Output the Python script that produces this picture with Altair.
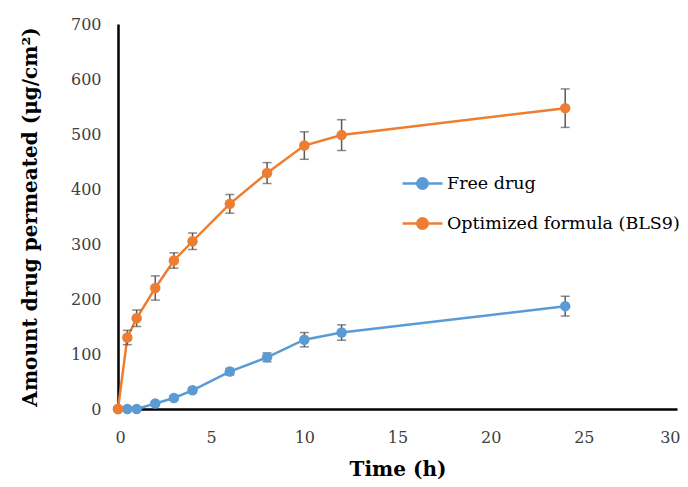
import altair as alt
import pandas as pd

time_h = [0, 0.5, 1, 2, 3, 4, 6, 8, 10, 12, 24]
free_drug = [0, 0, 0, 10, 20, 34, 68, 94, 126, 139, 187]
free_err = [0, 2, 2, 3, 4, 5, 6, 8, 13, 14, 18]
optimized = [0, 130, 165, 220, 270, 305, 373, 429, 479, 498, 547]
opt_err = [0, 13, 15, 22, 14, 15, 17, 19, 25, 28, 35]

series_names = ["Free drug", "Optimized formula (BLS9)"]
colors = ["#5B9BD5", "#ED7D31"]

rows = []
for t, v, e in zip(time_h, free_drug, free_err):
    rows.append({"t": t, "v": v, "e": e, "s": series_names[0]})
for t, v, e in zip(time_h, optimized, opt_err):
    rows.append({"t": t, "v": v, "e": e, "s": series_names[1]})
df = pd.DataFrame(rows)

font = "DejaVu Serif"
xs = alt.Scale(domain=[0, 30], nice=False)
ys = alt.Scale(domain=[0, 700], nice=False)
cs = alt.Scale(domain=series_names, range=colors)

base = alt.Chart(df).encode(
    x=alt.X("t:Q", scale=xs, title="Time (h)",
            axis=alt.Axis(values=[0, 5, 10, 15, 20, 25, 30])),
)

err = base.transform_filter("datum.e > 0").transform_calculate(
    lo="datum.v - datum.e", hi="datum.v + datum.e"
)
err_rule = err.mark_rule(color="#595959", strokeWidth=1.5).encode(
    y=alt.Y("lo:Q", scale=ys), y2="hi:Q"
)
cap_lo = err.mark_tick(color="#595959", thickness=1.5, size=9, orient="horizontal").encode(
    y=alt.Y("lo:Q", scale=ys)
)
cap_hi = err.mark_tick(color="#595959", thickness=1.5, size=9, orient="horizontal").encode(
    y=alt.Y("hi:Q", scale=ys)
)

legend_path = "M-1,0L1,0M-0.26,0A0.26,0.26 0 1,0 0.26,0A0.26,0.26 0 1,0 -0.26,0Z"
color_enc = alt.Color(
    "s:N", scale=cs, title=None,
    legend=alt.Legend(
        orient="none", legendX=283, legendY=138, symbolType=legend_path,
        symbolSize=1600, symbolStrokeWidth=2.5, labelFont=font,
        labelFontSize=17.5, labelColor="#000000", rowPadding=8, labelOffset=3,
        labelLimit=400,
    ),
)

line = base.mark_line(strokeWidth=2.5).encode(
    y=alt.Y("v:Q", scale=ys, title="Amount drug permeated (μg/cm²)",
            axis=alt.Axis(values=[0, 100, 200, 300, 400, 500, 600, 700])),
    color=color_enc,
)
pts = base.mark_point(filled=True, size=110, opacity=1).encode(
    y=alt.Y("v:Q", scale=ys),
    color=color_enc,
)

chart = alt.layer(line, err_rule, cap_lo, cap_hi, pts).properties(
    width=559, height=385,
    autosize=alt.AutoSizeParams(type="none"),
    padding={"left": 110, "top": 16, "right": 3, "bottom": 70},
).configure_view(stroke=None).configure_axis(
    grid=False, ticks=False, domainColor="#000000", domainWidth=2.5,
    labelFont=font, labelFontSize=16, labelColor="#404040",
    titleFont=font, titleFontSize=20, titleFontWeight="bold", titleColor="#000000",
).configure_axisX(labelPadding=20, titlePadding=14, labelFlush=True,
                  labelFlushOffset=3).configure_axisY(
    labelPadding=17, titlePadding=30
)

chart.save("out.html", embed_options={"renderer": "svg", "actions": False})
